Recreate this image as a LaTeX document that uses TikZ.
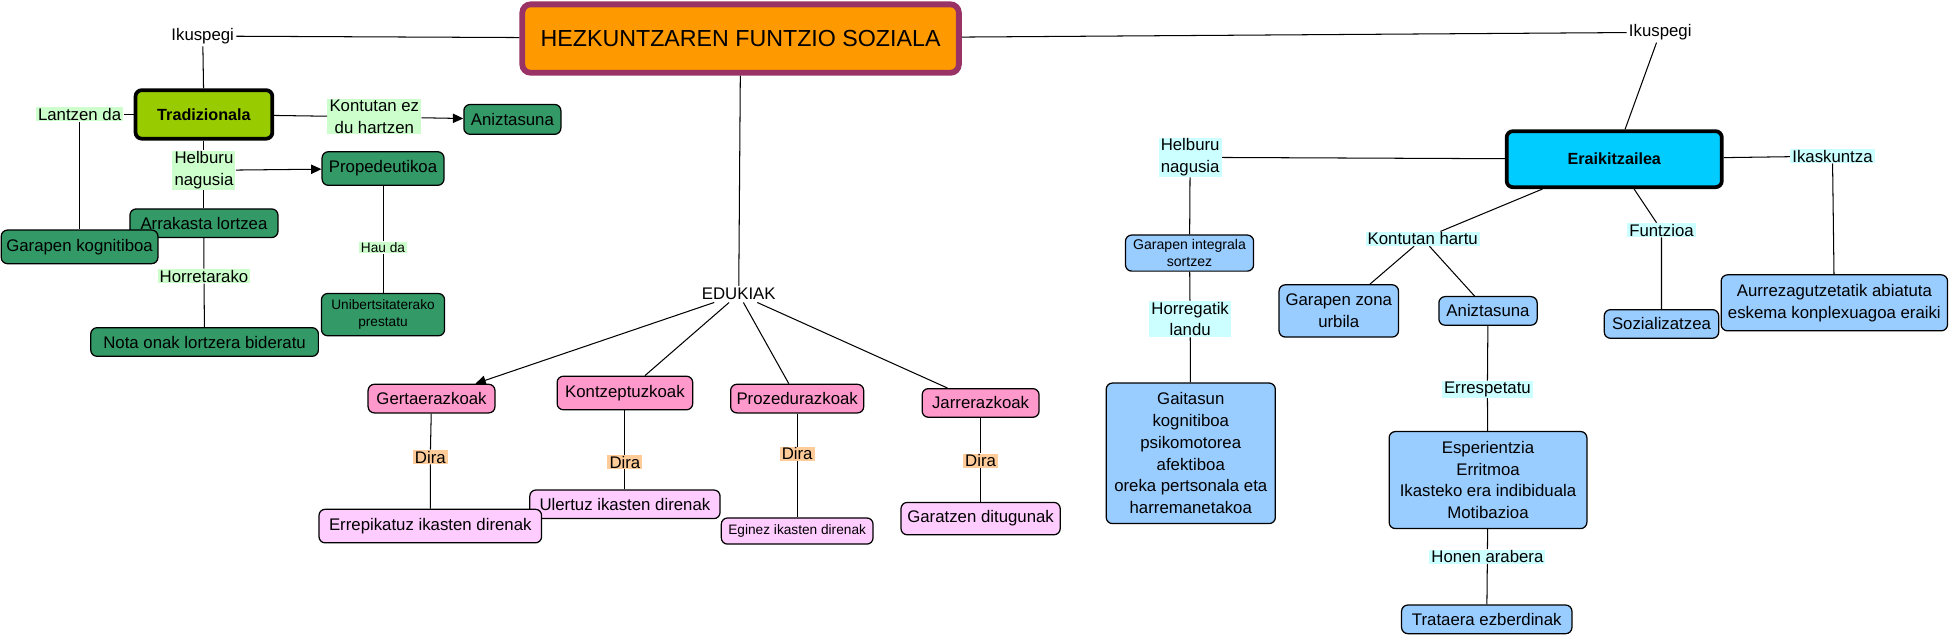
\documentclass[tikz,border=0pt]{standalone}
\usepackage{fontspec}
\setmainfont{Liberation Sans}
\usetikzlibrary{arrows.meta,positioning}

\definecolor{mapgreen}{HTML}{339966}
\definecolor{mappink}{HTML}{FF99CC}
\definecolor{maplpink}{HTML}{FFCCFF}
\definecolor{mapblue}{HTML}{99CCFF}
\definecolor{mapcyan}{HTML}{00CCFF}
\definecolor{maplime}{HTML}{99CC00}
\definecolor{maporange}{HTML}{FF9900}
\definecolor{mapplum}{HTML}{993366}
\definecolor{labgreen}{HTML}{CCFFCC}
\definecolor{labcyan}{HTML}{CCFFFF}
\definecolor{labpeach}{HTML}{FFCC99}

\newcommand\mapfont{\fontsize{8.1}{10.5}\selectfont}
\newcommand\mapsmall{\fontsize{6.6}{8.4}\selectfont}

\tikzset{
  dims/.style 2 args={minimum width=#1*0.6pt, minimum height=#2*0.6pt},
  concept/.style={draw=black, line width=0.6pt, rounded corners=3pt, inner sep=1pt, align=center, font=\mapfont},
  gconcept/.style={concept, fill=mapgreen},
  pconcept/.style={concept, fill=mappink},
  lpconcept/.style={concept, fill=maplpink},
  bconcept/.style={concept, fill=mapblue},
  plain/.style={inner sep=1pt, font=\mapfont},
  link/.style={inner xsep=1pt, inner ysep=0.4pt, align=center, font=\mapfont},
  glink/.style={link, fill=labgreen},
  clink/.style={link, fill=labcyan},
  dlink/.style={link, fill=labpeach},
  conn/.style={line width=0.5pt},
  arr/.style={conn, -{Triangle[length=5pt,width=4.5pt]}},
}

\begin{document}
\begin{tikzpicture}[x=0.6pt, y=-0.6pt]
  \useasboundingbox (0,0) rectangle (1568,512);

  % Main concept
  \node[draw=mapplum, line width=2.8pt, fill=maporange, rounded corners=4pt, dims={351}{55},
        font=\fontsize{11.2}{13}\selectfont] (main) at (595.5,31) {HEZKUNTZAREN FUNTZIO SOZIALA};

  % Left: Tradizionala
  \node[plain] (ikL) at (163,29) {Ikuspegi};
  \node[draw=black, line width=1.8pt, fill=maplime, rounded corners=3pt, dims={110}{39},
        font=\fontsize{7.8}{9}\selectfont\bfseries] (trad) at (164,92) {Tradizionala};
  \node[glink] (lantzen) at (64,92) {Lantzen da};
  \node[glink] (kontez) at (301,94) {Kontutan ez\\du hartzen};
  \node[gconcept, dims={78}{24}] (aniz1) at (412,96) {Aniztasuna};
  \node[glink] (helbL) at (164,137) {Helburu\\nagusia};
  \node[gconcept, dims={98}{27}] (prop) at (308,135.5) {Propedeutikoa};
  \node[glink, font=\mapsmall] (haud) at (308,199) {Hau da};
  \node[gconcept, dims={99}{34}, font=\mapsmall] (unib) at (308,253) {Unibertsitaterako\\prestatu};
  \node[gconcept, dims={119}{23}] (arrak) at (164,179.5) {Arrakasta lortzea};
  \node[gconcept, dims={126}{27}] (garkog) at (64,198.5) {Garapen kognitiboa};
  \node[glink] (horret) at (164,222) {Horretarako};
  \node[gconcept, dims={183}{23}] (nota) at (164.5,275) {Nota onak lortzera bideratu};

  \draw[conn] (ikL) -- (main);
  \draw[conn] (ikL) -- (trad);
  \draw[conn] (trad) -- (lantzen);
  \draw[conn] (lantzen) -- (garkog);
  \draw[conn] (trad) -- (kontez);
  \draw[arr] (kontez) -- (aniz1);
  \draw[conn] (trad) -- (helbL);
  \draw[arr] (helbL) -- (prop);
  \draw[conn] (prop) -- (haud) -- (unib);
  \draw[conn] (helbL) -- (arrak);
  \draw[conn] (arrak) -- (horret) -- (nota);

  % Middle: Edukiak
  \node[plain] (edukiak) at (594,236.5) {EDUKIAK};
  \node[pconcept, dims={102}{23}] (gert) at (347,320.5) {Gertaerazkoak};
  \node[pconcept, dims={109}{27}] (kontz) at (502.5,316) {Kontzeptuzkoak};
  \node[pconcept, dims={107}{23}] (proz) at (641,320.5) {Prozedurazkoak};
  \node[pconcept, dims={94}{23}] (jarr) at (788.5,324) {Jarrerazkoak};
  \node[dlink] (dira1) at (346,367.5) {Dira};
  \node[dlink] (dira2) at (502.5,371.5) {Dira};
  \node[dlink] (dira3) at (641,365) {Dira};
  \node[dlink] (dira4) at (788.5,370.5) {Dira};
  \node[lpconcept, dims={153}{23}] (ulert) at (502.5,405.5) {Ulertuz ikasten direnak};
  \node[lpconcept, dims={179}{27}] (errep) at (346,423) {Errepikatuz ikasten direnak};
  \node[lpconcept, dims={122}{21}, font=\mapsmall] (egin) at (641,427) {Eginez ikasten direnak};
  \node[lpconcept, dims={128}{26}] (garat) at (788.5,417) {Garatzen ditugunak};

  \draw[conn] (main) -- (edukiak);
  \draw[arr] (edukiak) -- (gert);
  \draw[conn] (edukiak) -- (kontz);
  \draw[conn] (edukiak) -- (proz);
  \draw[conn] (edukiak) -- (jarr);
  \draw[conn] (gert) -- (dira1) -- (errep);
  \draw[conn] (kontz) -- (dira2) -- (ulert);
  \draw[conn] (proz) -- (dira3) -- (egin);
  \draw[conn] (jarr) -- (dira4) -- (garat);

  % Right: Eraikitzailea
  \node[plain] (ikR) at (1335,26) {Ikuspegi};
  \node[draw=black, line width=1.8pt, fill=mapcyan, rounded corners=3pt, dims={173}{45},
        font=\fontsize{7.8}{9}\selectfont\bfseries] (eraik) at (1298,128) {Eraikitzailea};
  \node[clink] (helbR) at (957,126.5) {Helburu\\nagusia};
  \node[bconcept, dims={103}{29}, font=\fontsize{6.8}{8.2}\selectfont] (garint) at (956.5,203.5) {Garapen integrala\\sortzez};
  \node[clink] (horreg) at (957,256.5) {Horregatik\\landu};
  \node[bconcept, dims={136}{113}] (gaitas) at (957.5,364.5)
    {Gaitasun\\kognitiboa\\psikomotorea\\afektiboa\\oreka pertsonala eta\\harremanetakoa};
  \node[clink] (kontuh) at (1144,192) {Kontutan hartu};
  \node[bconcept, dims={96}{42}] (garzona) at (1076.5,250) {Garapen zona\\urbila};
  \node[bconcept, dims={79}{23}] (aniz2) at (1196.5,250) {Aniztasuna};
  \node[clink] (errespet) at (1196,313) {Errespetatu};
  \node[bconcept, dims={159}{78}] (esper) at (1196.5,386)
    {Esperientzia\\Erritmoa\\Ikasteko era indibiduala\\Motibazioa};
  \node[clink] (honen) at (1196,447.5) {Honen arabera};
  \node[bconcept, dims={137}{23}] (trat) at (1195.5,498) {Trataera ezberdinak};
  \node[clink] (funtz) at (1336,185) {Funtzioa};
  \node[bconcept, dims={92}{23}] (sozial) at (1336,260.5) {Sozializatzea};
  \node[clink] (ikask) at (1473.5,125.5) {Ikaskuntza};
  \node[bconcept, dims={182}{45}] (aurrez) at (1475,243.5)
    {Aurrezagutzetatik abiatuta\\eskema konplexuagoa eraiki};

  \draw[conn] (main) -- (ikR);
  \draw[conn] (ikR) -- (eraik);
  \draw[conn] (eraik) -- (helbR);
  \draw[conn] (helbR) -- (garint) -- (horreg) -- (gaitas);
  \draw[conn] (eraik) -- (kontuh);
  \draw[conn] (kontuh) -- (garzona);
  \draw[conn] (kontuh) -- (aniz2);
  \draw[conn] (aniz2) -- (errespet) -- (esper) -- (honen) -- (trat);
  \draw[conn] (eraik) -- (funtz) -- (sozial);
  \draw[conn] (eraik) -- (ikask) -- (aurrez);
\end{tikzpicture}
\end{document}
